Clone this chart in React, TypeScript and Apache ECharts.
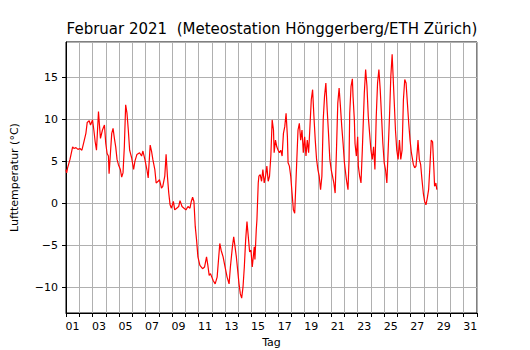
import React, { useEffect, useRef } from "react";
import * as echarts from "echarts";

// Time in days (1.0 = 1 Feb 2021 00:00)
const days = [
  1.0, 1.05, 1.12, 1.3, 1.5, 1.6, 1.75, 1.9, 2.05, 2.2, 2.35, 2.5, 2.6, 2.75, 2.85, 3.0,
  3.1, 3.2, 3.3, 3.45, 3.55, 3.6, 3.75, 3.9, 4.0, 4.1, 4.2, 4.25, 4.35, 4.45, 4.55, 4.65,
  4.75, 4.85, 4.95, 5.1, 5.2, 5.3, 5.4, 5.5, 5.6, 5.7, 5.8, 5.95, 6.1, 6.2, 6.35, 6.55,
  6.7, 6.8, 6.95, 7.1, 7.2, 7.35, 7.45, 7.55, 7.7, 7.8, 7.95, 8.05, 8.2, 8.3, 8.45, 8.55,
  8.65, 8.75, 8.85, 8.95, 9.1, 9.2, 9.35, 9.5, 9.6, 9.75, 9.9, 10.05, 10.2, 10.35, 10.45, 10.55,
  10.65, 10.75, 10.85, 10.95, 11.1, 11.3, 11.45, 11.6, 11.7, 11.8, 11.9, 12.0, 12.1, 12.25, 12.4, 12.5,
  12.6, 12.7, 12.85, 13.0, 13.15, 13.3, 13.4, 13.55, 13.65, 13.75, 13.85, 13.95, 14.05, 14.15, 14.25, 14.35,
  14.45, 14.55, 14.65, 14.75, 14.85, 14.95, 15.05, 15.2, 15.25, 15.35, 15.4, 15.5, 15.55, 15.65, 15.75, 15.85,
  15.95, 16.05, 16.15, 16.25, 16.35, 16.45, 16.55, 16.65, 16.7, 16.8, 16.9, 17.0, 17.1, 17.2, 17.3, 17.4,
  17.5, 17.6, 17.7, 17.75, 17.85, 17.95, 18.05, 18.15, 18.25, 18.3, 18.4, 18.5, 18.6, 18.7, 18.8, 18.9,
  19.0, 19.1, 19.2, 19.3, 19.4, 19.5, 19.6, 19.7, 19.8, 19.9, 20.0, 20.1, 20.2, 20.3, 20.4, 20.5,
  20.6, 20.7, 20.8, 20.9, 21.0, 21.1, 21.2, 21.3, 21.4, 21.5, 21.6, 21.7, 21.8, 21.9, 22.0, 22.15,
  22.27, 22.35, 22.4, 22.5, 22.6, 22.65, 22.75, 22.8, 22.9, 23.0, 23.05, 23.15, 23.25, 23.35, 23.5, 23.6,
  23.7, 23.8, 23.9, 24.0, 24.1, 24.2, 24.3, 24.4, 24.5, 24.6, 24.7, 24.8, 24.9, 25.0, 25.1, 25.2,
  25.3, 25.4, 25.5, 25.6, 25.65, 25.75, 25.85, 25.95, 26.05, 26.15, 26.25, 26.35, 26.45, 26.55, 26.65, 26.75,
  26.85, 26.95, 27.05, 27.2, 27.3, 27.4, 27.5, 27.55, 27.65, 27.75, 27.85, 27.95, 28.05, 28.15, 28.25, 28.35,
  28.45, 28.55, 28.65, 28.75, 28.8, 28.9, 28.97,
];

// Air temperature (°C)
const temps = [
  4.0, 3.6, 4.2, 5.2, 6.7, 6.5, 6.6, 6.4, 6.5, 6.3, 7.3, 8.3, 9.6, 9.8, 9.3, 9.9,
  8.7, 7.3, 6.3, 10.9, 8.7, 7.7, 8.7, 9.3, 7.1, 5.9, 5.6, 3.5, 5.9, 8.3, 8.9, 7.7,
  6.7, 5.2, 4.6, 4.0, 3.1, 3.6, 6.7, 11.7, 10.7, 8.7, 6.3, 5.4, 4.0, 5.0, 5.8, 6.0,
  5.6, 6.2, 5.2, 4.0, 3.0, 6.9, 6.2, 5.2, 4.0, 2.4, 2.6, 2.8, 1.8, 2.0, 3.2, 5.8,
  3.2, 1.2, -0.2, -0.6, 0.2, -0.8, -0.6, -0.4, 0.3, -0.4, -0.6, -0.8, -0.4, -0.6, 0.2, 0.7,
  0.2, -2.8, -4.4, -6.4, -7.4, -7.8, -7.6, -6.4, -7.4, -8.6, -8.4, -8.8, -9.2, -9.6, -8.8, -6.8,
  -4.8, -5.6, -6.4, -7.6, -8.8, -9.6, -7.6, -5.2, -4.0, -5.2, -6.4, -8.0, -9.6, -10.8, -11.3, -10.0,
  -7.6, -4.4, -2.2, -4.0, -5.8, -5.6, -7.6, -5.2, -6.7, -3.2, -2.0, 2.4, 3.2, 3.4, 2.6, 4.0,
  2.4, 3.2, 4.4, 2.6, 3.2, 5.6, 9.9, 8.7, 6.0, 7.5, 6.7, 6.3, 6.0, 6.3, 5.6, 8.3,
  9.1, 10.7, 7.9, 4.8, 4.4, 3.2, 1.2, -0.8, -1.2, 0.8, 4.8, 8.7, 9.5, 7.5, 8.7, 6.0,
  7.9, 5.6, 7.5, 6.0, 9.1, 12.3, 13.5, 10.3, 7.5, 5.2, 4.0, 3.2, 1.6, 3.2, 9.9, 12.7,
  14.3, 11.1, 8.3, 5.2, 4.0, 3.2, 2.4, 1.2, 6.3, 11.9, 13.7, 11.5, 9.1, 7.1, 4.8, 2.8,
  1.6, 5.2, 10.7, 13.9, 14.8, 12.7, 9.9, 7.1, 5.6, 7.9, 4.4, 3.2, 2.4, 6.3, 13.1, 15.9,
  13.9, 10.3, 8.3, 6.3, 5.2, 6.7, 4.0, 10.3, 14.3, 15.9, 13.5, 10.3, 7.1, 4.8, 4.0, 2.4,
  6.3, 10.3, 15.1, 17.7, 15.9, 12.3, 8.7, 6.3, 5.2, 7.5, 5.2, 6.3, 12.3, 14.7, 14.3, 11.9,
  9.5, 7.5, 6.0, 4.6, 4.2, 4.4, 6.3, 7.5, 5.2, 4.6, 2.8, 1.2, 0.2, -0.2, 0.6, 1.6,
  4.4, 7.5, 7.3, 4.0, 2.0, 2.4, 1.6,
];

const titleText = "Februar 2021  (Meteostation Hönggerberg/ETH Zürich)";
const xName = "Tag";
const yName = "Lufttemperatur (°C)";

const FONT = "DejaVu Sans";

export default function App() {
  const ref = useRef<HTMLDivElement>(null);
  useEffect(() => {
    if (!ref.current) return;
    const chart = echarts.init(ref.current, undefined, { renderer: "svg" });
    const data = days.map((d, i) => [d, temps[i]]);
    chart.setOption({
      animation: false,
      backgroundColor: "#ffffff",
      title: {
        text: titleText,
        left: 272,
        top: 21,
        padding: 0,
        textAlign: "center",
        textStyle: { fontFamily: FONT, fontSize: 15, fontWeight: "normal", color: "#000" },
      },
      grid: {
        left: 66,
        right: 53,
        top: 42,
        bottom: 37,
        show: true,
        borderColor: "#000",
        borderWidth: 1,
        backgroundColor: "transparent",
        outerBoundsMode: "none",
        containLabel: false,
      },
      xAxis: {
        type: "value",
        min: 1,
        max: 32,
        interval: 1,
        name: xName,
        nameLocation: "middle",
        nameGap: 24,
        nameTextStyle: { fontFamily: FONT, fontSize: 11, color: "#000" },
        axisLine: { show: true, onZero: false, lineStyle: { color: "#000", width: 1 } },
        axisTick: { show: true, inside: false, length: 4, lineStyle: { color: "#000", width: 1 } },
        splitLine: { show: true, lineStyle: { color: "#b0b0b0", width: 1 } },
        axisLabel: {
          fontFamily: FONT,
          fontSize: 11,
          color: "#000",
          margin: 8,
          padding: [0, 0, 0, 13],
          showMinLabel: true,
          showMaxLabel: true,
          formatter: (v: number) => {
            const d = Math.round(v);
            if (d % 2 === 1 && d <= 31) return (d < 10 ? "0" : "") + d;
            return "";
          },
        },
      },
      yAxis: {
        type: "value",
        min: -13.07,
        max: 19.17,
        splitNumber: 5,
        name: yName,
        nameLocation: "middle",
        nameGap: 46,
        nameRotate: 90,
        nameTextStyle: { fontFamily: FONT, fontSize: 11, color: "#000" },
        axisLine: { show: true, onZero: false, lineStyle: { color: "#000", width: 1 } },
        axisTick: { show: true, inside: false, length: 4, lineStyle: { color: "#000", width: 1 } },
        splitLine: { show: true, lineStyle: { color: "#b0b0b0", width: 1 } },
        axisLabel: {
          fontFamily: FONT,
          fontSize: 11,
          color: "#000",
          margin: 8,
          showMinLabel: false,
          showMaxLabel: false,
          formatter: (v: number) => {
            if (Math.abs(v % 5) > 1e-6) return "";
            return v < 0 ? "\u2212" + Math.abs(v) : String(v);
          },
        },
      },
      series: [
        {
          type: "line",
          data,
          showSymbol: false,
          symbol: "none",
          lineStyle: { color: "#ff0000", width: 1.2 },
        },
      ],
    });
    return () => chart.dispose();
  }, []);
  return (
    <div
      ref={ref}
      style={{ position: "fixed", left: 0, top: 0, width: 530, height: 350 }}
    />
  );
}
